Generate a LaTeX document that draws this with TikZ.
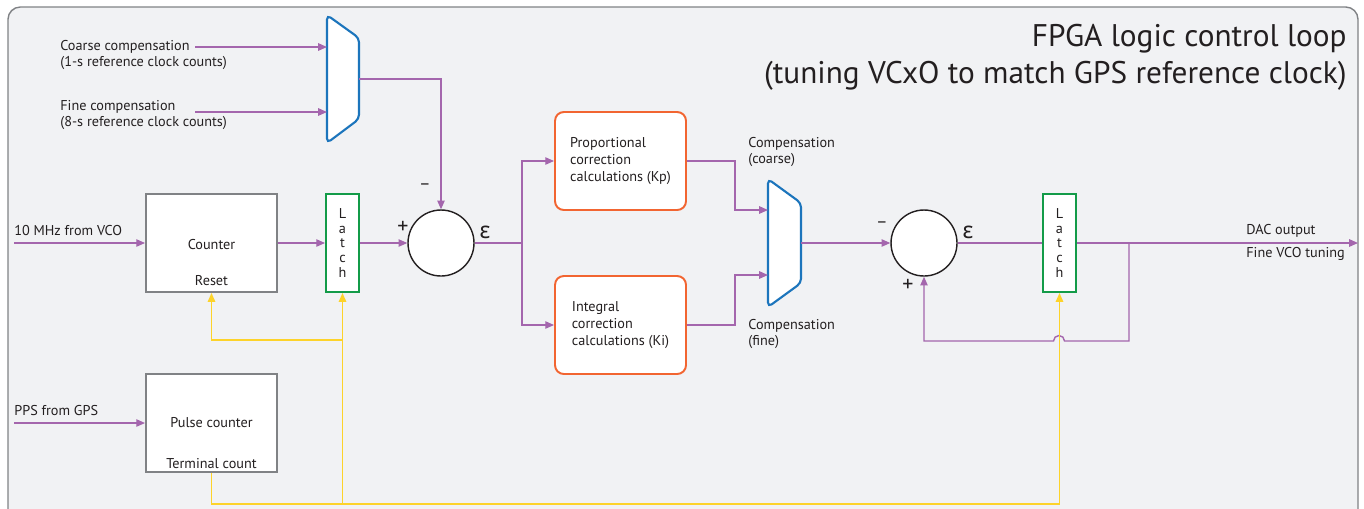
\documentclass[tikz,border=0pt]{standalone}
\usepackage{fontspec}
\setmainfont{PT Sans}
\newfontfamily\grk{Noto Sans}
\usetikzlibrary{arrows.meta}
\definecolor{bg}{HTML}{F1F2F4}
\definecolor{framec}{HTML}{808285}
\definecolor{pur}{HTML}{A466AD}
\definecolor{yel}{HTML}{FDD32A}
\definecolor{grn}{HTML}{139B48}
\definecolor{org}{HTML}{F26531}
\definecolor{blu}{HTML}{1C75BC}
\definecolor{gry}{HTML}{808285}
\definecolor{txt}{HTML}{231F20}
\begin{document}
\begin{tikzpicture}[x=0.02cm,y=-0.02cm,
  lbl/.style={font=\fontsize{8.1}{9.6}\selectfont, text=txt, inner sep=0pt, align=left},
  sig/.style={draw=pur, line width=0.8pt},
  arr/.style={sig, -{Triangle[length=5pt,width=4.2pt]}, color=pur},
  ysig/.style={draw=yel, line width=0.8pt},
  yarr/.style={ysig, -{Triangle[length=5pt,width=4.2pt]}, color=yel},
  box/.style={draw=gry, fill=white, line width=1.1pt, minimum width=2.62cm, minimum height=1.96cm, inner sep=0pt, lbl, align=center},
  latchbox/.style={draw=grn, fill=white, line width=1.1pt, minimum width=0.66cm, minimum height=1.96cm, inner sep=0pt, font=\fontsize{8.1}{8.5}\selectfont, text=txt, align=center},
  calcbox/.style={draw=org, fill=white, line width=1.1pt, rounded corners=5pt, minimum width=2.62cm, minimum height=1.96cm, inner sep=0pt, lbl},
  sumnode/.style={circle, draw=txt, fill=white, line width=0.8pt, minimum size=1.32cm, inner sep=0pt},
  muxshape/.style={draw=blu, fill=white, line width=1.2pt, rounded corners=2.5pt},
  sgn/.style={font=\fontsize{10}{10}\selectfont, text=txt, inner sep=0pt},
  plussgn/.style={font=\fontsize{12.5}{12.5}\selectfont, text=txt, inner sep=0pt},
  eps/.style={font=\grk\fontsize{13}{13}\selectfont, text=txt, inner sep=0pt},
]
\useasboundingbox (0,0) rectangle (1364,508);
\draw[draw=framec, fill=bg, line width=0.8pt, rounded corners=7pt] (8,7) rectangle (1358,560);

% title
\node[font=\fontsize{17.8}{21}\selectfont, text=txt, align=right, anchor=east, inner sep=0pt] (title) at (1347,57) {FPGA logic control loop\\(tuning VCxO to match GPS reference clock)};

% mux 1
\draw[muxshape] (327,15) -- (359,38) -- (359,119) -- (327,143) -- cycle;
\coordinate (m1a) at (327,47);
\coordinate (m1b) at (327,112);
\coordinate (m1o) at (359,79);

\node[lbl, anchor=west] (coarse) at (60,55) {Coarse compensation\\(1-s reference clock counts)};
\node[lbl, anchor=west] (fine) at (60,115) {Fine compensation\\(8-s reference clock counts)};
\coordinate (c1) at (195,47);
\coordinate (c2) at (195,112);
\draw[arr] (c1) -- (m1a);
\draw[arr] (c2) -- (m1b);

% main row
\node[lbl, anchor=west] (mhz) at (14,231) {10 MHz from VCO};
\coordinate (in1) at (14,243);
\node[box] (counter) at (211.5,243) {};
\node[lbl] (cnt) at (211.5,245) {Counter};
\node[lbl] (reset) at (211.5,281) {Reset};
\node[latchbox] (l1) at (342.5,243) {L\\a\\t\\c\\h};
\node[sumnode] (s1) at (441,243) {};
\node[sgn] (s1m) at (425,187) {–};
\node[plussgn] (s1p) at (403,227) {+};
\node[eps] (s1e) at (485,232) {ε};

\draw[arr] (in1) -- (counter.west);
\draw[arr] (counter.east) -- (l1.west);
\draw[arr] (l1.east) -- (s1.west);
\draw[arr] (m1o) -| (s1.north);

% correction blocks
\node[calcbox] (prop) at (620.5,161) {Proportional\\correction\\calculations (Kp)};
\node[calcbox] (int) at (620.5,325) {Integral\\correction\\calculations (Ki)};
\coordinate (sp) at (522,243);
\draw[sig] (s1.east) -- (sp);
\draw[arr] (sp) |- (prop.west);
\draw[arr] (sp) |- (int.west);

% mux 2
\draw[muxshape] (768,179) -- (801,203) -- (801,283) -- (768,307) -- cycle;
\coordinate (m2a) at (768,210);
\coordinate (m2b) at (768,275);
\coordinate (m2o) at (801,243);
\coordinate (pk) at (735,161);
\coordinate (ik) at (735,325);
\draw[arr] (prop.east) -- (pk) |- (m2a);
\draw[arr] (int.east) -- (ik) |- (m2b);
\node[lbl, anchor=west] (cc) at (748,152) {Compensation\\(coarse)};
\node[lbl, anchor=west] (cf) at (748,334) {Compensation\\(fine)};

% second sum
\node[sumnode] (s2) at (924,243) {};
\node[sgn] (s2m) at (882,225) {–};
\node[plussgn] (s2p) at (908,285) {+};
\node[eps] (s2e) at (968,232) {ε};
\draw[arr] (m2o) -- (s2.west);

\node[latchbox] (l2) at (1059.5,243) {L\\a\\t\\c\\h};
\draw[sig] (s2.east) -- (l2.west);
\coordinate (out) at (1358,243);
\coordinate (br) at (1129,243);
\draw[arr] (l2.east) -- (out);
\node[lbl, anchor=west] (dac) at (1246,231) {DAC output};
\node[lbl, anchor=west] (fvco) at (1246,254) {Fine VCO tuning};

% feedback with jump
\coordinate (fb1) at (1129,341);
\coordinate (fb2) at (924,341);
\draw[arr] (br) -- (fb1) -- (1064.5,341) arc[start angle=0, end angle=-180, radius=5.5] -- (fb2) -- (s2.south);

% pulse counter
\node[lbl, anchor=west] (pps) at (14,411) {PPS from GPS};
\coordinate (in2) at (14,423);
\node[box] (pulse) at (211.5,423) {Pulse counter};
\node[lbl] (term) at (211.5,464) {Terminal count};
\draw[arr] (in2) -- (pulse.west);

% yellow timing lines
\coordinate (yb1) at (211.5,504);
\coordinate (yb2) at (342.5,504);
\coordinate (yb3) at (1059.5,504);
\coordinate (ym1) at (342.5,340);
\draw[ysig] (pulse.south) -- (yb1) -- (yb3);
\draw[yarr] (yb3) -- (l2.south);
\draw[yarr] (yb2) -- (l1.south);
\draw[yarr] (ym1) -| (counter.south);
\end{tikzpicture}
\end{document}
